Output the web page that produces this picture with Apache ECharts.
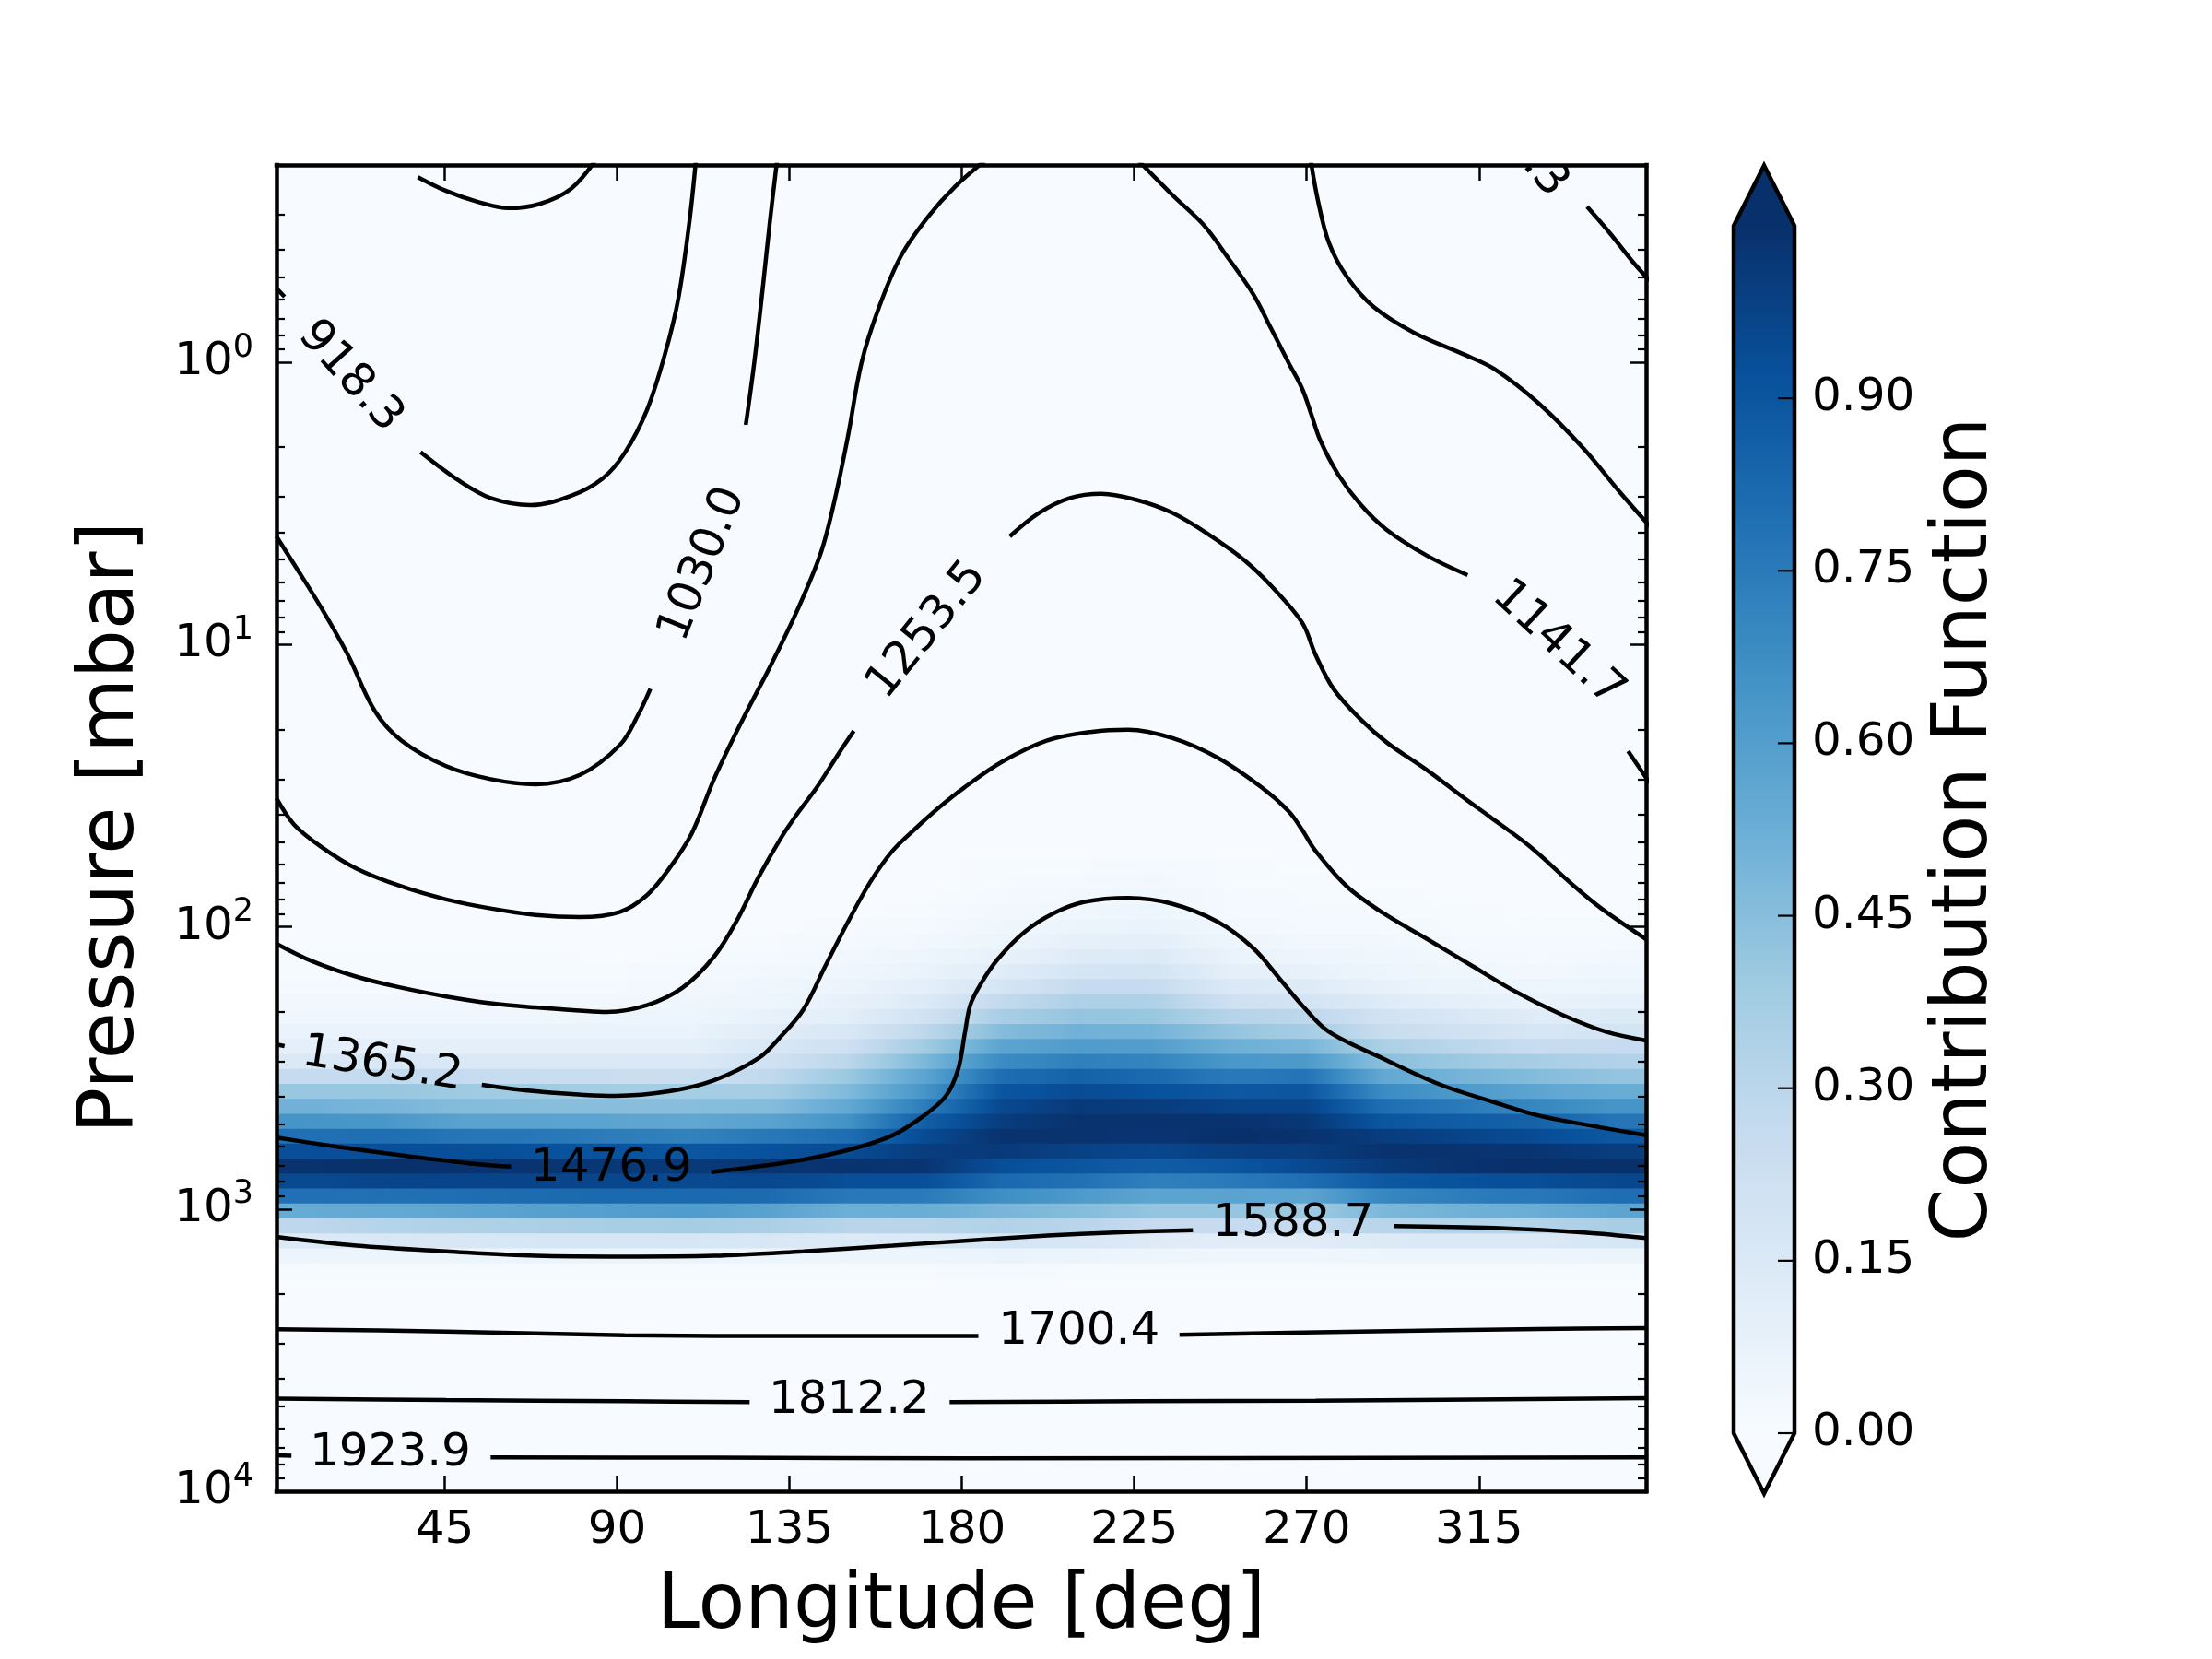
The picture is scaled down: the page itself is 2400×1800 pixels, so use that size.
<!DOCTYPE html>
<html><head><meta charset="utf-8">
<script src="https://cdn.jsdelivr.net/npm/echarts@6/dist/echarts.min.js"></script>
<style>html,body{margin:0;padding:0;background:#fff}#c{width:2400px;height:1800px}</style>
</head><body><div id="c"></div>
<script>
const FONT = 'DejaVu Sans';
// ---- axis ranges / ticks ----
const lonMin = 1.1, lonMax = 358.6;
const pTop = 0.2, pBottom = 10000;
const lonTicks = [45, 90, 135, 180, 225, 270, 315];
const pMajorTicks = [1, 10, 100, 1000, 10000];
const pMinorTicks = [0.2,0.3,0.4,0.5,0.6,0.7,0.8,0.9, 2,3,4,5,6,7,8,9, 20,30,40,50,60,70,80,90,
  200,300,400,500,600,700,800,900, 2000,3000,4000,5000,6000,7000,8000,9000];
const cbMin = 0, cbMax = 1.05;
const cbTicks = [0, 0.15, 0.30, 0.45, 0.60, 0.75, 0.90];

// ---- contribution function grid ----
const longitudes = [10,30,50,70,90,110,130,150,170,190,210,230,250,270,290,310,330,350];
const pressures = [61.4,69.3,78.3,88.5,100,113.0,127.6,144.2,162.9,184.1,208.0,235.0,265.5,299.9,
  338.8,382.8,432.5,488.7,552.1,623.7,704.7,796.2,899.5,1016,1148,1297,1466,1656];
const contribution = [
 [0,0,0,0,0,0,0,0,0,.01,.01,.02,.01,0,0,0,0,0],
 [0,0,0,0,0,0,0,0,0,.01,.02,.03,.01,.01,0,0,0,0],
 [0,0,0,0,0,0,0,0,0,.02,.03,.04,.02,.01,.01,0,0,0],
 [0,0,0,0,0,0,0,0,.01,.03,.04,.05,.02,.02,.01,.01,0,0],
 [0,0,0,0,0,0,0,.01,.02,.04,.06,.07,.03,.02,.02,.01,.01,.01],
 [0,0,0,0,0,0,.01,.02,.03,.05,.09,.10,.05,.03,.03,.02,.02,.02],
 [.01,.01,.01,.01,0,.01,.02,.03,.05,.08,.13,.14,.07,.05,.04,.03,.02,.03],
 [.01,.01,.01,.01,.01,.02,.03,.04,.07,.12,.18,.19,.10,.08,.05,.04,.03,.04],
 [.02,.02,.02,.02,.02,.03,.04,.06,.10,.18,.26,.26,.15,.13,.08,.06,.05,.05],
 [.03,.03,.03,.03,.03,.04,.05,.08,.14,.27,.34,.34,.22,.19,.13,.10,.07,.09],
 [.04,.04,.04,.04,.05,.05,.08,.11,.20,.36,.42,.41,.32,.29,.20,.16,.12,.14],
 [.07,.07,.07,.07,.07,.07,.12,.16,.29,.46,.51,.50,.42,.37,.25,.21,.17,.19],
 [.10,.10,.10,.10,.10,.10,.16,.22,.38,.57,.61,.60,.52,.49,.35,.30,.25,.26],
 [.15,.16,.15,.15,.15,.15,.21,.30,.48,.68,.73,.71,.63,.62,.44,.40,.36,.33],
 [.26,.27,.26,.25,.24,.24,.28,.40,.57,.80,.85,.82,.75,.78,.55,.50,.46,.42],
 [.41,.41,.39,.38,.37,.37,.37,.47,.64,.90,.94,.92,.89,.90,.68,.62,.57,.53],
 [.51,.49,.46,.45,.45,.45,.46,.55,.74,.95,1.01,1.00,.97,.97,.80,.75,.70,.64],
 [.64,.63,.58,.58,.57,.56,.58,.65,.86,1.00,1.04,1.04,1.04,1.02,.90,.87,.85,.77],
 [.79,.80,.77,.76,.74,.72,.76,.80,.94,1.04,1.04,1.03,1.05,1.04,1.00,.97,.94,.89],
 [.93,.93,.93,.92,.91,.90,.92,.94,1.00,1.01,.98,.96,.99,1.00,1.04,1.04,1.03,1.00],
 [1.04,1.05,1.04,1.03,1.02,1.01,1.03,1.04,1.03,.93,.90,.87,.90,.95,1.01,1.04,1.05,1.05],
 [.95,.97,.97,.97,.96,.95,.96,.93,.93,.82,.79,.73,.75,.80,.89,.92,.93,.96],
 [.79,.79,.80,.81,.82,.82,.81,.76,.75,.67,.62,.57,.58,.57,.70,.74,.76,.80],
 [.54,.55,.57,.59,.60,.61,.58,.52,.53,.49,.46,.42,.42,.39,.48,.51,.53,.57],
 [.29,.32,.34,.35,.36,.37,.35,.31,.31,.33,.31,.26,.26,.26,.31,.32,.32,.36],
 [.14,.16,.16,.17,.17,.17,.16,.14,.15,.18,.17,.13,.12,.12,.14,.15,.15,.17],
 [.05,.05,.05,.06,.06,.06,.05,.05,.05,.07,.06,.05,.04,.04,.05,.05,.05,.06],
 [.01,.01,.01,.01,.01,.01,.01,.01,.01,.02,.01,.01,.01,.01,.01,.01,.01,.01]
];

// ---- temperature contours: [longitude deg, log10 pressure mbar] ----
const c806  = [[38.0,-0.656],[45.4,-0.607],[53.5,-0.569],[61.7,-0.546],[69.8,-0.561],[78.0,-0.615],[84.6,-0.72]];
const c918a = [[1.1,-0.262],[3.2,-0.232]];
const c918b = [[38.7,0.318],[48.8,0.420],[57.0,0.481],[67.5,0.506],[78.0,0.473],[86.2,0.412],[92.0,0.321],[97.8,0.169],[102.5,-0.029],[106.0,-0.227],[108.9,-0.500],[110.6,-0.72]];
const c918c = [[343.2,-0.551],[349.3,-0.455],[355.1,-0.356],[359.5,-0.29]];
const c1030a = [[1.1,0.617],[5.7,0.716],[12.7,0.868],[19.7,1.036],[26.7,1.234],[33.7,1.340],[45.4,1.431],[57.0,1.477],[68.7,1.495],[80.3,1.462],[90.8,1.355],[95.5,1.249],[98.7,1.157]];
const c1030b = [[123.6,0.222],[125.8,0.002],[128.1,-0.272],[129.9,-0.500],[131.8,-0.72]];
const c1030c = [[271.0,-0.72],[272.9,-0.576],[275.8,-0.424],[280.5,-0.303],[287.5,-0.196],[298.0,-0.105],[310.8,-0.029],[319.0,0.024],[330.6,0.146],[342.3,0.306],[351.6,0.458],[359.5,0.58]];
const c1141a = [[1.1,1.545],[5.7,1.638],[12.7,1.716],[22.0,1.794],[33.7,1.857],[45.4,1.903],[57.0,1.935],[68.7,1.958],[80.3,1.966],[90.8,1.947],[97.8,1.888],[103.6,1.794],[109.5,1.669],[115.3,1.477],[122.3,1.279],[130.4,1.066],[137.4,0.868],[143.3,0.671],[146.8,0.488],[150.3,0.260],[153.8,0.002],[158.4,-0.196],[164.2,-0.379],[171.2,-0.516],[178.2,-0.622],[186.5,-0.72]];
const c1141b = [[225.7,-0.72],[235.0,-0.592],[243.2,-0.485],[249.0,-0.379],[256.0,-0.242],[260.7,-0.120],[265.3,0.002],[268.8,0.093],[271.2,0.184],[273.5,0.275],[278.2,0.397],[284.0,0.503],[291.0,0.595],[301.5,0.686],[312.0,0.754]];
const c1141c = [[353.9,1.378],[359.5,1.49]];
const c1253a = [[1.1,2.060],[10.4,2.122],[22.0,2.177],[33.7,2.216],[45.4,2.247],[57.0,2.271],[68.7,2.286],[80.3,2.297],[87.3,2.302],[97.8,2.278],[107.1,2.216],[115.3,2.106],[121.1,1.982],[126.9,1.825],[132.8,1.685],[137.5,1.591],[142.1,1.507],[147.9,1.385],[151.8,1.306]];
const c1253b = [[192.5,0.617],[200.1,0.534],[208.2,0.481],[216.4,0.466],[225.7,0.488],[235.0,0.534],[244.4,0.610],[253.7,0.701],[260.7,0.792],[268.8,0.922],[272.3,1.036],[277.0,1.157],[284.0,1.264],[291.0,1.348],[301.5,1.446],[312.0,1.553],[317.8,1.610],[328.3,1.716],[339.9,1.857],[346.9,1.935],[358.6,2.044]];
const c1365a = [[1.1,2.417],[3.2,2.423]];
const c1365b = [[54.7,2.560],[68.7,2.583],[89.6,2.599],[103.6,2.583],[115.3,2.544],[126.9,2.466],[132.8,2.388],[138.6,2.294],[144.4,2.138],[150.3,1.982],[156.1,1.841],[161.9,1.731],[167.8,1.653],[174.0,1.578],[180.5,1.508],[190.7,1.414],[202.3,1.340],[214.0,1.309],[223.4,1.302],[235.0,1.332],[246.7,1.401],[258.3,1.507],[265.3,1.591],[268.8,1.656],[272.3,1.731],[280.5,1.857],[289.8,1.950],[301.5,2.044],[313.1,2.138],[324.8,2.232],[336.4,2.310],[348.1,2.372],[358.6,2.403]];
const c1476a = [[1.1,2.747],[16.2,2.778],[33.7,2.810],[51.2,2.838],[62.3,2.850]];
const c1476b = [[114.6,2.869],[126.9,2.849],[138.6,2.825],[150.3,2.791],[161.9,2.739],[170.1,2.669],[175.8,2.600],[179.0,2.506],[180.8,2.375],[182.2,2.277],[185.0,2.201],[189.3,2.116],[196.2,2.020],[204.0,1.952],[212.0,1.912],[223.4,1.898],[235.0,1.919],[246.7,1.982],[256.0,2.075],[263.0,2.185],[268.8,2.278],[275.8,2.372],[289.8,2.466],[305.0,2.560],[319.0,2.622],[330.6,2.669],[342.3,2.700],[358.6,2.739]];
const c1588a = [[1.1,3.099],[22.0,3.130],[45.4,3.150],[68.7,3.166],[92.0,3.169],[115.3,3.166],[138.6,3.150],[161.9,3.130],[179.1,3.114],[202.4,3.094],[219.9,3.083],[240.3,3.075]];
const c1588b = [[292.7,3.060],[319.0,3.067],[342.3,3.083],[358.6,3.103]];
const c1700a = [[1.1,3.426],[45.4,3.434],[92.0,3.447],[138.6,3.450],[184.3,3.450]];
const c1700b = [[236.8,3.446],[284.0,3.434],[330.6,3.425],[358.6,3.422]];
const c1812a = [[1.1,3.672],[45.4,3.677],[92.0,3.681],[124.6,3.684]];
const c1812b = [[176.8,3.684],[225.7,3.681],[272.3,3.679],[358.6,3.670]];
const c1923a = [[1.1,3.873],[5.0,3.874]];
const c1923b = [[57.0,3.880],[115.3,3.881],[181.5,3.883],[358.6,3.880]];
const contourSegments = [c806,c918a,c918b,c918c,c1030a,c1030b,c1030c,c1141a,c1141b,c1141c,
  c1253a,c1253b,c1365a,c1365b,c1476a,c1476b,c1588a,c1588b,c1700a,c1700b,c1812a,c1812b,c1923a,c1923b];

// contour labels
const labelTexts = ['918.3','918.3','1030.0','1141.7','1253.5','1365.2','1476.9','1588.7','1700.4','1812.2','1923.9'];
const labelLon   = [20.3, 324.8, 112.4, 335.6, 171.0, 28.7, 88.5, 266.4, 210.6, 150.6, 30.8];
const labelLogP  = [0.051, -0.785, 0.716, 0.998, 0.95, 2.489, 2.857, 3.053, 3.434, 3.681, 3.865];
const labelAngle = [-48, -50, 68, -43, 51, -9, 0, 0, 0, 0, 0];

// ---- Blues colormap ----
const bluesStops = ['#f7fbff','#deebf7','#c6dbef','#9ecae1','#6baed6','#4292c6','#2171b5','#08519c','#08306b'];
function hexRgb(h){ return [parseInt(h.slice(1,3),16), parseInt(h.slice(3,5),16), parseInt(h.slice(5,7),16)]; }
function blues(v){
  let t = (v - cbMin) / (cbMax - cbMin);
  t = Math.max(0, Math.min(1, t));
  const s = t * 8, k = Math.min(7, Math.floor(s)), f = s - k;
  const a = hexRgb(bluesStops[k]), b = hexRgb(bluesStops[k+1]);
  return 'rgb(' + a.map((c, n) => Math.round(c + (b[n] - c) * f)).join(',') + ')';
}

const heatData = [];
for (let j = 0; j < pressures.length; j++)
  for (let i = 0; i < longitudes.length; i++)
    heatData.push([longitudes[i], pressures[j], contribution[j][i]]);

function rowEdges(j){
  const n = pressures.length;
  const top = j === 0 ? pressures[0] / Math.sqrt(pressures[1] / pressures[0]) : Math.sqrt(pressures[j-1] * pressures[j]);
  const bot = j === n - 1 ? pressures[j] * Math.sqrt(pressures[j] / pressures[j-1]) : Math.sqrt(pressures[j] * pressures[j+1]);
  return [top, bot];
}

function renderHeat(params, api){
  const N = longitudes.length;
  const j = Math.floor(params.dataIndex / N), i = params.dataIndex % N;
  const e = rowEdges(j);
  const ya = api.coord([longitudes[i], e[0]])[1], yb = api.coord([longitudes[i], e[1]])[1];
  const y0 = Math.min(ya, yb), h = Math.abs(yb - ya) + 0.8;
  const cs = params.coordSys;
  const v = api.value(2);
  const xa = api.coord([longitudes[i], pressures[j]])[0];
  const children = [];
  if (i === 0) children.push({type:'rect', shape:{x:cs.x, y:y0, width:xa - cs.x + 0.8, height:h}, style:{fill:blues(v)}});
  if (i === N - 1) {
    children.push({type:'rect', shape:{x:xa, y:y0, width:cs.x + cs.width - xa, height:h}, style:{fill:blues(v)}});
  } else {
    const v2 = contribution[j][i+1];
    const xb = api.coord([longitudes[i+1], pressures[j]])[0];
    const stops = [0, 0.25, 0.5, 0.75, 1].map(o => ({offset:o, color:blues(v + (v2 - v) * o)}));
    children.push({type:'rect', shape:{x:xa, y:y0, width:xb - xa + 0.8, height:h},
      style:{fill:{type:'linear', x:0, y:0, x2:1, y2:0, colorStops:stops}}});
  }
  return {type:'group', children};
}

function renderLabel(params, api){
  const pt = api.coord([api.value(0), api.value(1)]);
  return {type:'text', x:pt[0], y:pt[1], rotation:api.value(2) * Math.PI / 180,
    style:{text:labelTexts[params.dataIndex], font:'50px "DejaVu Sans"', fill:'#000', align:'center', verticalAlign:'middle'}};
}

function renderColorbar(params, api){
  const p0 = api.coord([0, cbMin]), p1 = api.coord([1, cbMax]);
  const x0 = p0[0], x1 = p1[0], yb = p0[1], yt = p1[1];
  const ext = 0.05 * (yb - yt), xm = (x0 + x1) / 2;
  const stops = bluesStops.map((c, k) => ({offset:k / 8, color:c}));
  const children = [
    {type:'rect', shape:{x:x0, y:yt, width:x1 - x0, height:yb - yt},
      style:{fill:{type:'linear', x:0, y:1, x2:0, y2:0, colorStops:stops}}},
    {type:'polygon', shape:{points:[[x0, yt + 0.5], [xm, yt - ext], [x1, yt + 0.5]]}, style:{fill:blues(cbMax)}},
    {type:'polygon', shape:{points:[[x0, yb - 0.5], [xm, yb + ext], [x1, yb - 0.5]]}, style:{fill:blues(cbMin)}}
  ];
  cbTicks.forEach(t => {
    const y = api.coord([1, t])[1];
    children.push({type:'line', shape:{x1:x1 - 18, y1:y, x2:x1, y2:y}, style:{stroke:'#000', lineWidth:2.2}});
  });
  children.push({type:'polygon', shape:{points:[[x0, yb], [x0, yt], [xm, yt - ext], [x1, yt], [x1, yb], [xm, yb + ext]]},
      style:{fill:null, stroke:'#000', lineWidth:4.5, lineJoin:'miter'}});
  return {type:'group', children};
}

const frameLine = {show:true, lineStyle:{color:'#000', width:4.5, cap:'square'}};
const majorTick = (vals) => ({show:true, inside:true, length:17, customValues:vals, lineStyle:{color:'#000', width:2.5}});
const minorTick = (vals) => ({show:true, inside:true, length:9, customValues:vals, lineStyle:{color:'#000', width:2.2}});
const labelFont = {fontFamily:FONT, fontSize:50, color:'#000'};

const series = [
  {type:'custom', name:'contribution', xAxisIndex:0, yAxisIndex:0, data:heatData, renderItem:renderHeat,
    clip:true, silent:true, z:1, encode:{x:0, y:1}},
];
contourSegments.forEach(seg => series.push({
  type:'line', xAxisIndex:0, yAxisIndex:0, data:seg.map(d => [d[0], Math.pow(10, d[1])]),
  symbol:'none', showSymbol:false, smooth:0.35, clip:true, silent:true, z:3,
  lineStyle:{color:'#000', width:4.5}
}));
series.push({type:'custom', name:'contour labels', xAxisIndex:0, yAxisIndex:0,
  data:labelLon.map((lon, k) => [lon, Math.pow(10, labelLogP[k]), labelAngle[k]]),
  renderItem:renderLabel, clip:true, silent:true, z:4, encode:{x:0, y:1}});
series.push({type:'custom', name:'colorbar', xAxisIndex:2, yAxisIndex:4, data:[[0, cbMin]],
  renderItem:renderColorbar, clip:false, silent:true, z:1, encode:{x:0, y:1}});

const option = {
  animation:false,
  backgroundColor:'#ffffff',
  grid:[
    {left:300, top:179, width:1486, height:1439, show:true, backgroundColor:'#f7fbff', borderWidth:0},
    {left:1881, top:245, width:66, height:1310, show:false}
  ],
  xAxis:[
    {type:'value', gridIndex:0, min:lonMin, max:lonMax, position:'bottom', z:10,
      axisLine:frameLine, axisTick:majorTick(lonTicks), splitLine:{show:false},
      axisLabel:Object.assign({show:true, customValues:lonTicks, margin:18, lineHeight:50}, labelFont)},
    {type:'value', gridIndex:0, min:lonMin, max:lonMax, position:'top', z:10,
      axisLine:frameLine, axisTick:majorTick(lonTicks), splitLine:{show:false}, axisLabel:{show:false}},
    {type:'value', gridIndex:1, min:0, max:1, show:false}
  ],
  yAxis:[
    {type:'log', logBase:10, gridIndex:0, inverse:true, min:pTop, max:pBottom, position:'left', z:10,
      axisLine:frameLine, axisTick:majorTick(pMajorTicks), splitLine:{show:false}, minorTick:{show:false},
      axisLabel:{show:true, customValues:pMajorTicks, margin:25, color:'#000',
        formatter:(v) => '{b|10}{s|' + Math.round(Math.log10(v)) + '}',
        rich:{b:{fontFamily:FONT, fontSize:50, lineHeight:66, verticalAlign:'middle', color:'#000'},
              s:{fontFamily:FONT, fontSize:35, lineHeight:35, verticalAlign:'top', color:'#000'}}}},
    {type:'log', logBase:10, gridIndex:0, inverse:true, min:pTop, max:pBottom, position:'left', z:10,
      axisLine:{show:false}, axisTick:minorTick(pMinorTicks), splitLine:{show:false}, axisLabel:{show:false}},
    {type:'log', logBase:10, gridIndex:0, inverse:true, min:pTop, max:pBottom, position:'right', z:10,
      axisLine:frameLine, axisTick:majorTick(pMajorTicks), splitLine:{show:false}, axisLabel:{show:false}},
    {type:'log', logBase:10, gridIndex:0, inverse:true, min:pTop, max:pBottom, position:'right', z:10,
      axisLine:{show:false}, axisTick:minorTick(pMinorTicks), splitLine:{show:false}, axisLabel:{show:false}},
    {type:'value', gridIndex:1, min:cbMin, max:cbMax, position:'right', z:10,
      axisLine:{show:false}, splitLine:{show:false}, axisTick:{show:false},
      axisLabel:Object.assign({show:true, customValues:cbTicks, margin:19, formatter:(v) => v.toFixed(2)}, labelFont)}
  ],
  graphic:[
    {type:'text', x:1043, y:1744, style:{text:'Longitude [deg]', font:'83px "DejaVu Sans"', fill:'#000', align:'center', verticalAlign:'middle'}},
    {type:'text', x:122, y:898, rotation:Math.PI / 2, style:{text:'Pressure [mbar]', font:'83px "DejaVu Sans"', fill:'#000', align:'center', verticalAlign:'middle'}},
    {type:'text', x:2133, y:900, rotation:Math.PI / 2, style:{text:'Contribution Function', font:'83px "DejaVu Sans"', fill:'#000', align:'center', verticalAlign:'middle'}}
  ],
  series
};
const chart = echarts.init(document.getElementById('c'), null, {renderer:'canvas', width:2400, height:1800});
chart.setOption(option);
</script>
</body></html>
